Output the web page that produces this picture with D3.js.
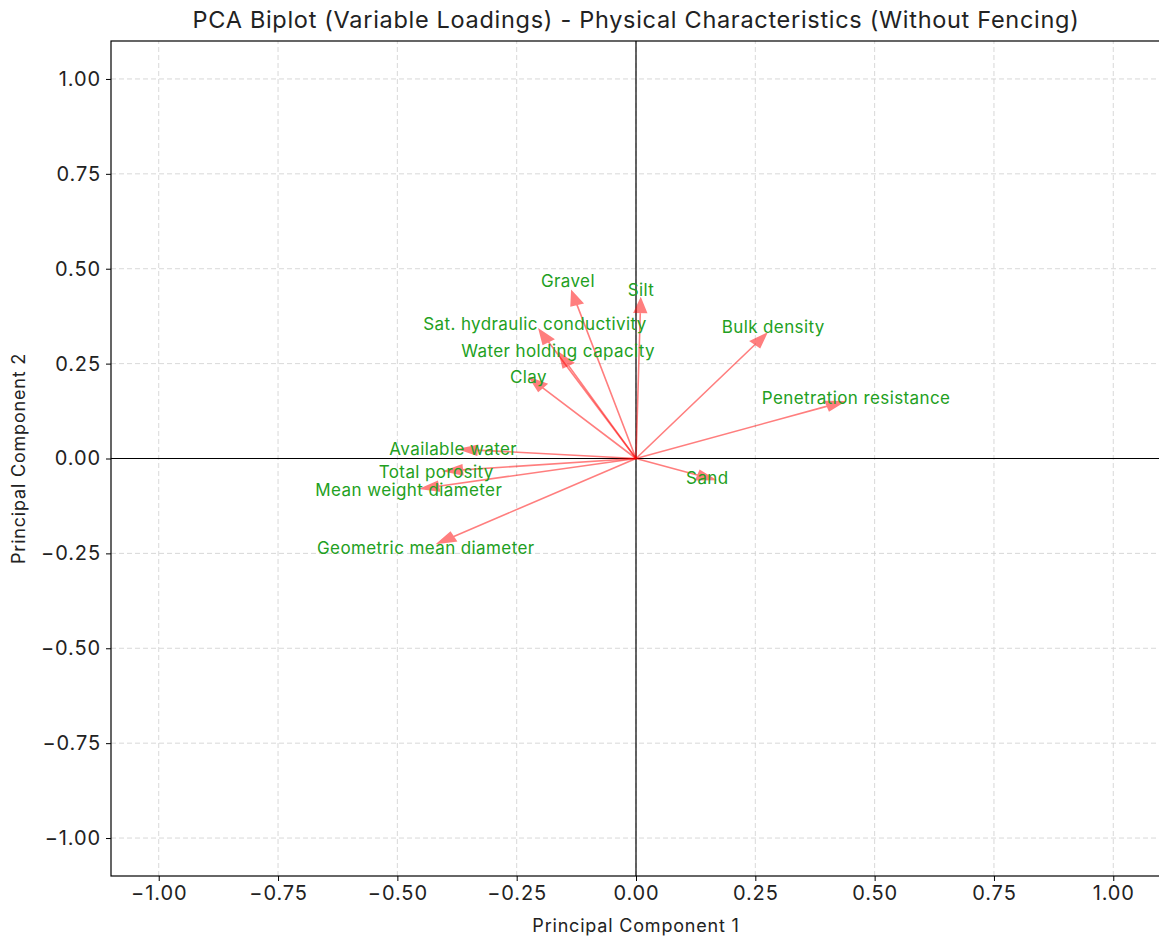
<!DOCTYPE html>
<html>
<head>
<meta charset="utf-8">
<script src="https://cdn.jsdelivr.net/npm/d3@7"></script>
<style>
  body { margin: 0; background: #fff; }
  svg { display: block; font-family: Inter, "Open Sans", sans-serif; }
</style>
</head>
<body>
<svg id="chart" width="1159" height="938"></svg>
<script>
// Variable names and their loadings on PC1 / PC2
const variables = [
  "Gravel", "Silt", "Sat. hydraulic conductivity", "Water holding capacity",
  "Clay", "Available water", "Total porosity", "Mean weight diameter",
  "Geometric mean diameter", "Bulk density", "Penetration resistance", "Sand"
];
const pc1 = [-0.124, 0.009, -0.184, -0.142, -0.196, -0.333, -0.364, -0.414, -0.383, 0.250, 0.401, 0.130];
const pc2 = [ 0.406, 0.385,  0.308,  0.246,  0.187,  0.022, -0.030, -0.073, -0.206, 0.301, 0.138, -0.044];
const tickValues = [-1.0, -0.75, -0.5, -0.25, 0.0, 0.25, 0.5, 0.75, 1.0];
const axisLimits = [-1.1, 1.1];
const labelScale = 1.15;

const svg = d3.select("#chart");
const margin = { left: 111, top: 41, right: -2, bottom: 62 };
const W = 1159, H = 938;

const x = d3.scaleLinear().domain(axisLimits).range([margin.left, W - margin.right]);
const y = d3.scaleLinear().domain(axisLimits).range([H - margin.bottom, margin.top]);

// grid
const grid = svg.append("g").attr("stroke", "#d4d4d4").attr("stroke-width", 0.9)
  .attr("stroke-dasharray", "5,3");
grid.selectAll(".gx").data(tickValues).join("line")
  .attr("x1", d => x(d)).attr("x2", d => x(d))
  .attr("y1", y(axisLimits[0])).attr("y2", y(axisLimits[1]));
grid.selectAll(".gy").data(tickValues).join("line")
  .attr("y1", d => y(d)).attr("y2", d => y(d))
  .attr("x1", x(axisLimits[0])).attr("x2", x(axisLimits[1]));

// zero reference lines
svg.append("line").attr("x1", x(0)).attr("x2", x(0))
  .attr("y1", y(axisLimits[0])).attr("y2", y(axisLimits[1]))
  .attr("stroke", "#000").attr("stroke-width", 1.2);
svg.append("line").attr("y1", y(0)).attr("y2", y(0))
  .attr("x1", x(axisLimits[0])).attr("x2", x(axisLimits[1]))
  .attr("stroke", "#000").attr("stroke-width", 1.2);

// arrows (head placed beyond the loading point)
const headWidth = 0.025, headLength = 0.036;
const arrows = svg.append("g");
variables.forEach((name, i) => {
  const lx = pc1[i], ly = pc2[i];
  const len = Math.hypot(lx, ly);
  const ux = lx / len, uy = ly / len;
  const px = -uy, py = ux;
  const tipX = lx + ux * headLength, tipY = ly + uy * headLength;
  const hw = headWidth / 2;
  const p = d3.path();
  p.moveTo(x(0), y(0));
  p.lineTo(x(lx), y(ly));
  p.moveTo(x(lx + px * hw), y(ly + py * hw));
  p.lineTo(x(tipX), y(tipY));
  p.lineTo(x(lx - px * hw), y(ly - py * hw));
  p.closePath();
  arrows.append("path").attr("d", p.toString())
    .attr("fill", "red").attr("stroke", "red").attr("stroke-width", 1.6)
    .attr("stroke-linejoin", "miter").attr("opacity", 0.5);
});

// labels
svg.append("g").selectAll("text").data(variables).join("text")
  .attr("x", (d, i) => x(pc1[i] * labelScale))
  .attr("y", (d, i) => y(pc2[i] * labelScale))
  .attr("text-anchor", "middle").attr("dominant-baseline", "central")
  .attr("font-size", 17).attr("letter-spacing", 0.4)
  .attr("fill", "#22a022")
  .text(d => d);

// spines
svg.append("rect").attr("x", x(axisLimits[0])).attr("y", y(axisLimits[1]))
  .attr("width", x(axisLimits[1]) - x(axisLimits[0]))
  .attr("height", y(axisLimits[0]) - y(axisLimits[1]))
  .attr("fill", "none").attr("stroke", "#000").attr("stroke-width", 1.2);

const fmt = d => d3.format(".2f")(d).replace("-", "\u2212");
const xAxis = svg.append("g").attr("transform", `translate(0,${y(axisLimits[0])})`)
  .call(d3.axisBottom(x).tickValues(tickValues).tickFormat(fmt).tickSizeOuter(0).tickSize(5).tickPadding(5));
const yAxis = svg.append("g").attr("transform", `translate(${x(axisLimits[0])},0)`)
  .call(d3.axisLeft(y).tickValues(tickValues).tickFormat(fmt).tickSizeOuter(0).tickSize(5).tickPadding(5));
[xAxis, yAxis].forEach(a => {
  a.select(".domain").remove();
  a.selectAll("text").attr("font-size", 20).attr("letter-spacing", 0.9)
    .attr("fill", "#222").attr("font-family", "Inter, sans-serif");
  a.selectAll("line").attr("stroke", "#000").attr("stroke-width", 1);
});

// axis titles
svg.append("text").attr("x", x(0)).attr("y", 932).attr("text-anchor", "middle")
  .attr("font-size", 18).attr("letter-spacing", 0.8).attr("fill", "#222")
  .text("Principal Component 1");
svg.append("text").attr("transform", `translate(25,${y(0)}) rotate(-90)`)
  .attr("text-anchor", "middle").attr("font-size", 18).attr("letter-spacing", 0.8)
  .attr("fill", "#222")
  .text("Principal Component 2");

// title
svg.append("text").attr("x", x(0)).attr("y", 28).attr("text-anchor", "middle")
  .attr("font-size", 23.5).attr("letter-spacing", 0.7).attr("fill", "#222")
  .text("PCA Biplot (Variable Loadings) - Physical Characteristics (Without Fencing)");
</script>
</body>
</html>
